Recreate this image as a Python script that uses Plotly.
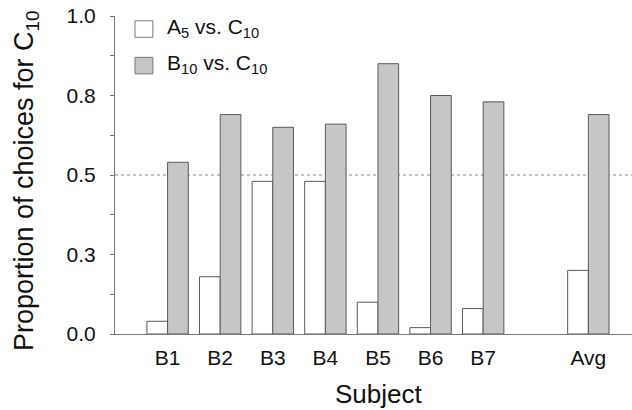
import plotly.graph_objects as go

# Proportion of choices for C10, per subject and averaged
subjects = ["B1", "B2", "B3", "B4", "B5", "B6", "B7", "Avg"]
a5_vs_c10 = [0.04, 0.18, 0.48, 0.48, 0.10, 0.02, 0.08, 0.20]
b10_vs_c10 = [0.54, 0.69, 0.65, 0.66, 0.85, 0.75, 0.73, 0.69]

# subjects sit at 1..7, the average is set apart after a gap
xpos = [i + 1 for i in range(7)] + [9]

ytick_vals = [i * 0.125 for i in range(9)]
ytick_text = ["0.0", "", "0.3", "", "0.5", "", "0.8", "", "1.0"]

FONT = "Liberation Sans, Arial, sans-serif"
INK = "#111111"
AXIS_COLOR = "#7a7a7a"
EDGE = "#5a5a5a"
GRAY = "#c6c6c6"

fig = go.Figure()
fig.add_trace(go.Bar(
    x=xpos, y=a5_vs_c10, name="A5 vs. C10",
    marker=dict(color="white", line=dict(color=EDGE, width=1)),
))
fig.add_trace(go.Bar(
    x=xpos, y=b10_vs_c10, name="B10 vs. C10",
    marker=dict(color=GRAY, line=dict(color=EDGE, width=1)),
))

# chance level
fig.add_shape(type="line", xref="paper", yref="y", x0=0, x1=1, y0=0.5, y1=0.5,
              line=dict(color="#888888", width=1, dash="dot"), layer="below")

# legend drawn as boxes + labels
legend_items = [("white", "A<sub>5</sub> vs. C<sub>10</sub>", 0.959),
                (GRAY, "B<sub>10</sub> vs. C<sub>10</sub>", 0.844)]
for fill, label, yc in legend_items:
    fig.add_shape(type="rect", xref="x", yref="y",
                  x0=0.38, x1=0.72, y0=yc - 0.026, y1=yc + 0.026,
                  fillcolor=fill, line=dict(color="#777777", width=1))
    fig.add_annotation(x=0.96, y=yc + 0.004, xref="x", yref="y", text=label,
                       showarrow=False, xanchor="left", yanchor="middle",
                       font=dict(family=FONT, size=21, color=INK))

# axis titles
fig.add_annotation(x=0.5106, y=-0.19, xref="paper", yref="paper", text="Subject",
                   showarrow=False, xanchor="center", yanchor="middle",
                   font=dict(family=FONT, size=26, color=INK))
fig.add_annotation(x=-0.172, y=0.481, xref="paper", yref="paper",
                   text="Proportion of choices for C<sub>10</sub>", textangle=-90,
                   showarrow=False, xanchor="center", yanchor="middle",
                   font=dict(family=FONT, size=27, color=INK))

fig.update_layout(
    width=632, height=410,
    margin=dict(l=115, r=0, t=16, b=76),
    paper_bgcolor="white", plot_bgcolor="white",
    barmode="group", bargap=0.213, bargroupgap=0,
    showlegend=False,
    font=dict(family=FONT, size=21, color=INK),
    xaxis=dict(
        range=[0, 9.83], tickvals=xpos, ticktext=subjects,
        showline=True, linecolor=AXIS_COLOR, linewidth=1,
        ticks="", showgrid=False, zeroline=False,
        tickfont=dict(family=FONT, size=21, color=INK),
        ticklabelstandoff=5,
    ),
    yaxis=dict(
        range=[0, 1], tickvals=ytick_vals, ticktext=ytick_text,
        showline=True, linecolor=AXIS_COLOR, linewidth=1,
        ticks="outside", ticklen=4, tickcolor=AXIS_COLOR,
        showgrid=False, zeroline=False,
        tickfont=dict(family=FONT, size=21, color=INK),
        ticklabelstandoff=10,
    ),
)

fig.write_html("out.html")
